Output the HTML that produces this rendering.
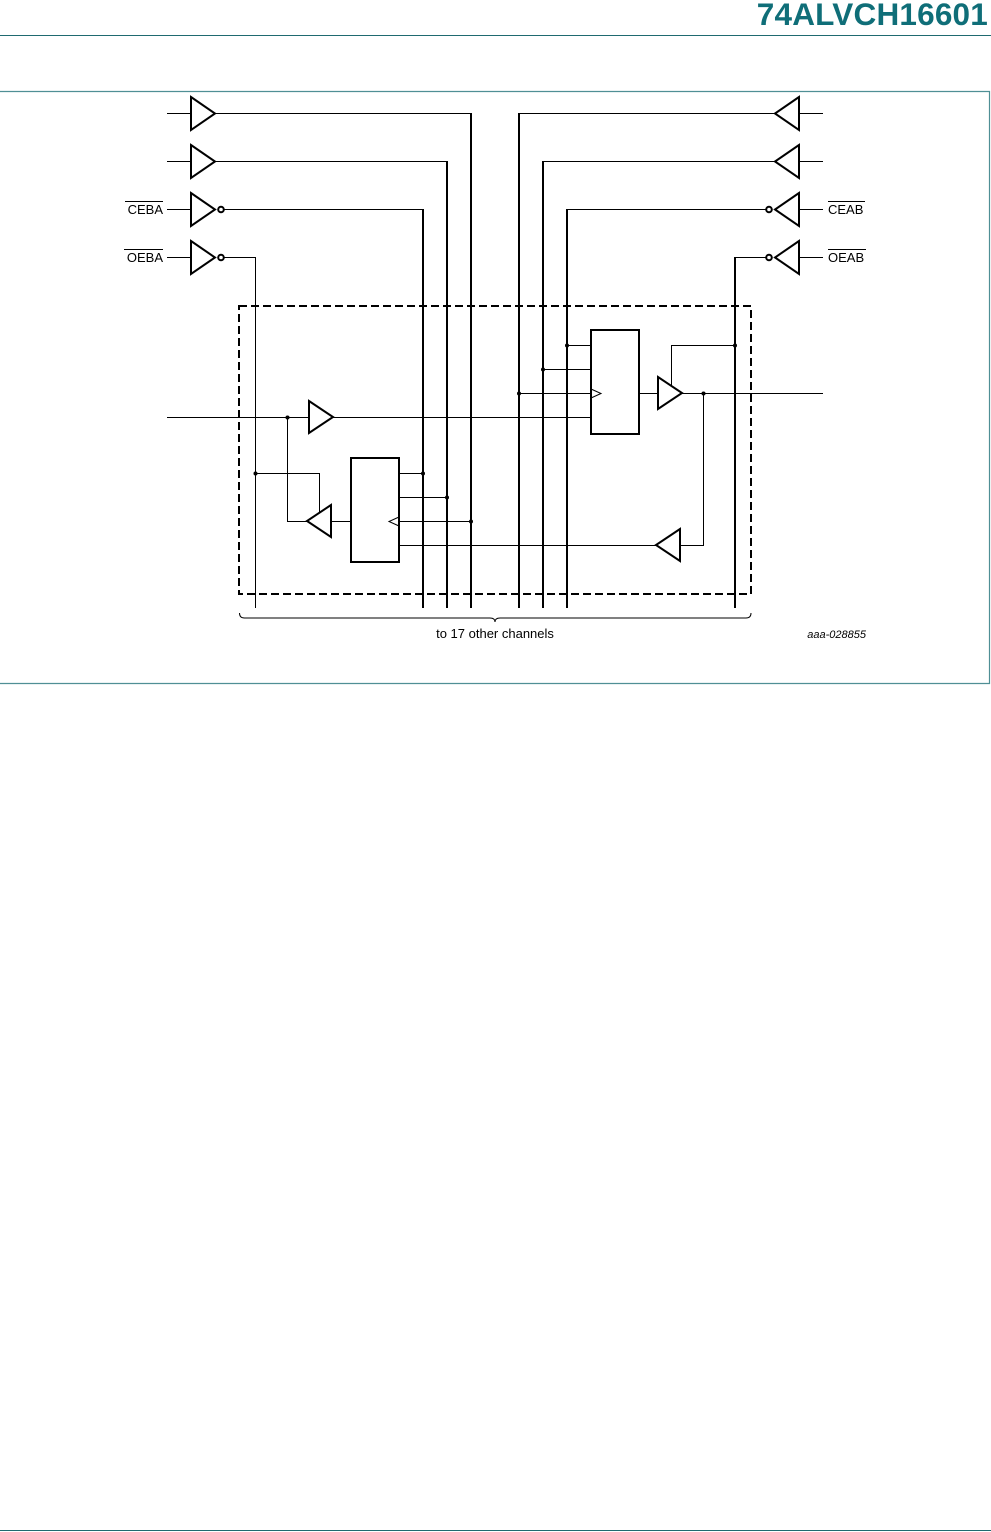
<!DOCTYPE html>
<html><head><meta charset="utf-8"><style>
html,body{margin:0;padding:0;background:#fff;width:991px;height:1532px;overflow:hidden}
svg{display:block}
</style></head><body>
<svg width="991" height="1532" xmlns="http://www.w3.org/2000/svg" font-family="Liberation Sans, Arial, sans-serif">
<text x="988" y="25" text-anchor="end" font-size="31.5" font-weight="bold" fill="#0f6e78" letter-spacing="0.2">74ALVCH16601</text>
<line x1="0" y1="35.5" x2="991" y2="35.5" stroke="#1f6a70" stroke-width="1"/>
<polyline points="0,91.5 989.5,91.5 989.5,683.5 0,683.5" fill="none" stroke="#4f8f95" stroke-width="1.2"/>
<line x1="0" y1="1530.5" x2="991" y2="1530.5" stroke="#1f6a70" stroke-width="1"/>

<g stroke="#000" fill="none" stroke-width="1">
<line x1="167" y1="113.5" x2="191" y2="113.5"/>
<line x1="167" y1="161.5" x2="191" y2="161.5"/>
<line x1="167" y1="209.5" x2="191" y2="209.5"/>
<line x1="167" y1="257.5" x2="191" y2="257.5"/>
<g stroke-width="2">
<polygon points="191,97 215,113.5 191,130"/>
<polygon points="191,145 215,161.5 191,178"/>
<polygon points="191,193 215,209.5 191,226"/>
<polygon points="191,241 215,257.5 191,274"/>
<circle cx="221" cy="209.5" r="2.8"/>
<circle cx="221" cy="257.5" r="2.8"/>
</g>
<polyline points="215,113.5 471,113.5"/>
<polyline points="215,161.5 447,161.5"/>
<polyline points="224,209.5 423,209.5"/>
<polyline points="224,257.5 255.5,257.5 255.5,608"/>
<line x1="799" y1="113.5" x2="823" y2="113.5"/>
<line x1="799" y1="161.5" x2="823" y2="161.5"/>
<line x1="799" y1="209.5" x2="823" y2="209.5"/>
<line x1="799" y1="257.5" x2="823" y2="257.5"/>
<g stroke-width="2">
<polygon points="799,97 775,113.5 799,130"/>
<polygon points="799,145 775,161.5 799,178"/>
<polygon points="799,193 775,209.5 799,226"/>
<polygon points="799,241 775,257.5 799,274"/>
<circle cx="769" cy="209.5" r="2.8"/>
<circle cx="769" cy="257.5" r="2.8"/>
</g>
<polyline points="775,113.5 519,113.5"/>
<polyline points="775,161.5 543,161.5"/>
<polyline points="766,209.5 567,209.5"/>
<polyline points="766,257.5 735,257.5"/>
<g stroke-width="2">
<line x1="471" y1="113" x2="471" y2="608"/>
<line x1="447" y1="161" x2="447" y2="608"/>
<line x1="423" y1="209" x2="423" y2="608"/>
<line x1="519" y1="113" x2="519" y2="608"/>
<line x1="543" y1="161" x2="543" y2="608"/>
<line x1="567" y1="209" x2="567" y2="608"/>
<line x1="735" y1="257" x2="735" y2="608"/>
<rect x="239" y="306" width="512" height="288" stroke-dasharray="8,4"/>
<rect x="591" y="330" width="48" height="104"/>
<rect x="351" y="458" width="48" height="104"/>
<polygon points="309,401 333,417 309,433"/>
<polygon points="658,377 682,393 658,409"/>
<polygon points="331,505 307,521 331,537"/>
<polygon points="680,529 656,545 680,561"/>
</g>
<line x1="167" y1="417.5" x2="309" y2="417.5"/>
<line x1="333" y1="417.5" x2="591" y2="417.5"/>
<line x1="567" y1="345.5" x2="591" y2="345.5"/>
<line x1="543" y1="369.5" x2="591" y2="369.5"/>
<line x1="519" y1="393.5" x2="591" y2="393.5"/>
<polyline points="591,389 601,393.5 591,398"/>
<line x1="639" y1="393.5" x2="658" y2="393.5"/>
<polyline points="671.5,385 671.5,345.5 735,345.5"/>
<line x1="682" y1="393.5" x2="823" y2="393.5"/>
<polyline points="703.5,393.5 703.5,545.5 680,545.5"/>
<line x1="656" y1="545.5" x2="399" y2="545.5"/>
<line x1="399" y1="473.5" x2="423" y2="473.5"/>
<line x1="399" y1="497.5" x2="447" y2="497.5"/>
<line x1="399" y1="521.5" x2="471" y2="521.5"/>
<polyline points="399,517 389,521.5 399,526"/>
<line x1="331" y1="521.5" x2="351" y2="521.5"/>
<polyline points="255.5,473.5 319.5,473.5 319.5,512"/>
<polyline points="287.5,417.5 287.5,521.5 307,521.5"/>
<path d="M239.5,613 q0,5 5,5 L490,618 q5,0 5,4 q0,-4 5,-4 L746,618 q5,0 5,-5"/>
</g>
<g fill="#000">
<circle cx="287.5" cy="417.5" r="2"/>
<circle cx="255.5" cy="473.5" r="2"/>
<circle cx="423" cy="473.5" r="2"/>
<circle cx="447" cy="497.5" r="2"/>
<circle cx="471" cy="521.5" r="2"/>
<circle cx="567" cy="345.5" r="2"/>
<circle cx="543" cy="369.5" r="2"/>
<circle cx="519" cy="393.5" r="2"/>
<circle cx="735" cy="345.5" r="2"/>
<circle cx="703.5" cy="393.5" r="2"/>
</g>
<g font-size="13" fill="#000">
<text x="163" y="214" text-anchor="end">CEBA</text>
<line x1="125" y1="201.5" x2="163" y2="201.5" stroke="#000"/>
<text x="163" y="262" text-anchor="end">OEBA</text>
<line x1="124" y1="249.5" x2="163" y2="249.5" stroke="#000"/>
<text x="828" y="214">CEAB</text>
<line x1="828" y1="201.5" x2="865" y2="201.5" stroke="#000"/>
<text x="828" y="262">OEAB</text>
<line x1="828" y1="249.5" x2="866" y2="249.5" stroke="#000"/>
<text x="495" y="638" text-anchor="middle">to 17 other channels</text>
<text x="866" y="638" text-anchor="end" font-size="11" font-style="italic">aaa-028855</text>
</g>
</svg>
</body></html>
